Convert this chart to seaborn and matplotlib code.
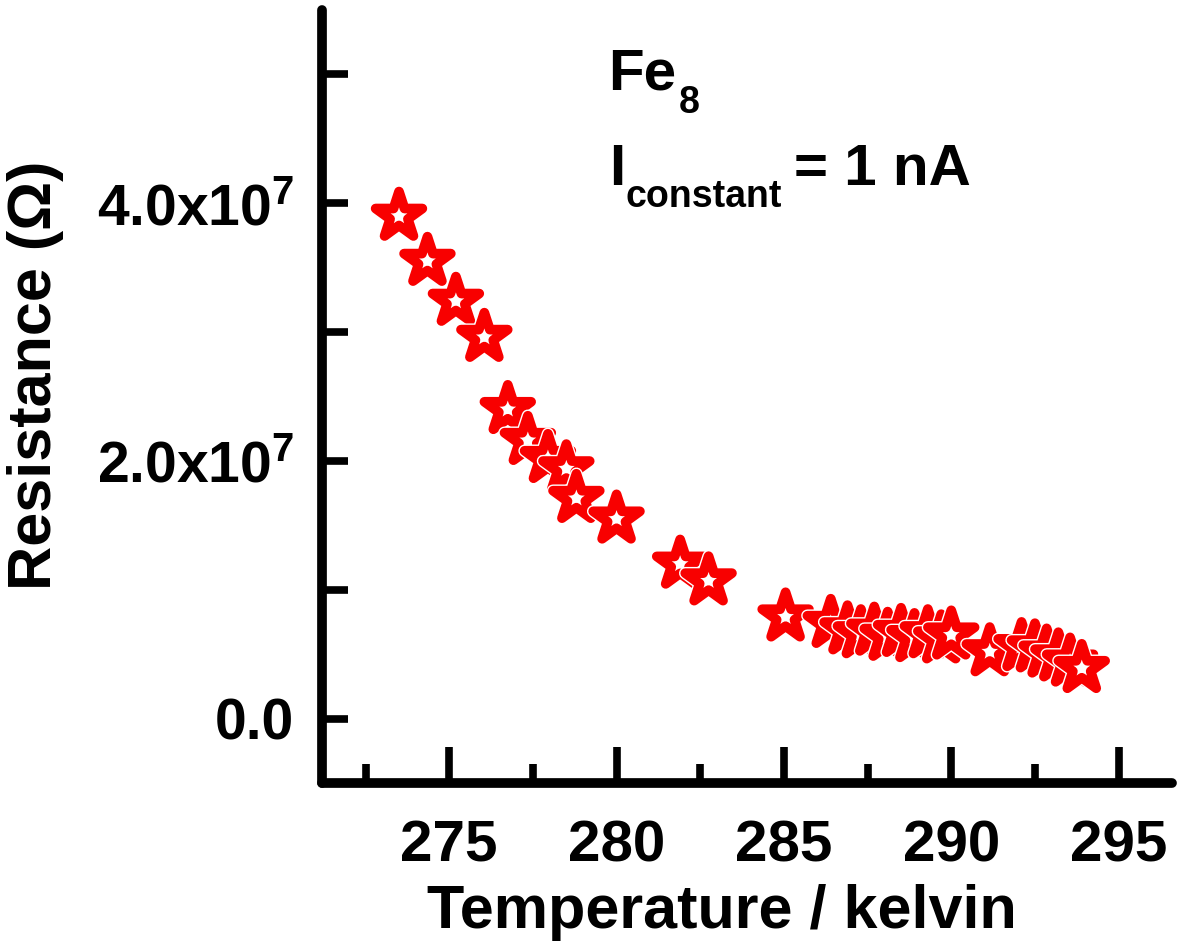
import numpy as np
import pandas as pd
import seaborn as sns
import matplotlib
matplotlib.use('Agg')
import matplotlib.pyplot as plt
from matplotlib import patheffects

# data
temperature = [273.5, 274.35, 275.2, 276.05, 276.75, 277.35, 277.95, 278.5, 278.8, 280.0,
               281.9, 282.75, 285.05, 286.4, 286.9, 287.3, 287.7, 288.1, 288.5, 288.9,
               289.3, 289.7, 290.0, 291.15, 292.1, 292.5, 292.85, 293.2, 293.55, 293.9]
resistance = [3.90e7, 3.55e7, 3.24e7, 2.96e7, 2.40e7, 2.16e7, 2.02e7, 1.94e7, 1.71e7, 1.55e7,
              1.20e7, 1.07e7, 0.79e7, 0.74e7, 0.69e7, 0.66e7, 0.68e7, 0.64e7, 0.67e7, 0.63e7,
              0.66e7, 0.62e7, 0.65e7, 0.52e7, 0.56e7, 0.55e7, 0.51e7, 0.48e7, 0.44e7, 0.39e7]

x_major = [275, 280, 285, 290, 295]
x_minor = [272.5, 277.5, 282.5, 287.5, 292.5]
y_major = [0, 2e7, 4e7]
y_labels = ['0.0', '2.0x10$^{7}$', '4.0x10$^{7}$']
y_minor = [1e7, 3e7, 5e7]

dt = pd.DataFrame({'T': temperature, 'R': resistance})

sns.set_style('white')
plt.rcParams['font.family'] = ['Liberation Sans', 'DejaVu Sans']
plt.rcParams['font.weight'] = 'bold'
plt.rcParams['text.color'] = 'black'
plt.rcParams['axes.labelcolor'] = 'black'
plt.rcParams['xtick.color'] = 'black'
plt.rcParams['ytick.color'] = 'black'
plt.rcParams['mathtext.fontset'] = 'custom'
plt.rcParams['mathtext.rm'] = 'Liberation Sans:bold'
plt.rcParams['mathtext.it'] = 'Liberation Sans:bold'
plt.rcParams['mathtext.bf'] = 'Liberation Sans:bold'


class WhiteRim(patheffects.AbstractPathEffect):
    # thin white rim drawn under each star, one star at a time
    def draw_path(self, renderer, gc, tpath, affine, rgbFace=None):
        gc0 = renderer.new_gc()
        gc0.copy_properties(gc)
        gc0.set_linewidth(gc.get_linewidth() + 2.0)
        gc0.set_foreground('white')
        gc0.set_joinstyle('round')
        renderer.draw_path(gc0, tpath, affine, (1, 1, 1, 1))
        gc0.restore()
        renderer.draw_path(gc, tpath, affine, rgbFace)


fig = plt.figure(figsize=(11.94, 9.48), dpi=100)
ax = fig.add_axes([0.2697, 0.174, 0.712, 0.8155])

sns.scatterplot(data=dt, x='T', y='R', marker='*', s=1250, color='white',
                edgecolor='#f80000', linewidth=7.0, ax=ax, zorder=3)
stars = ax.collections[0]
stars.set_joinstyle('round')
stars.set_path_effects([WhiteRim()])

ax.set_xlim(271.2, 296.6)
ax.set_ylim(-0.5e7, 5.5e7)

ax.set_xticks(x_major)
ax.set_xticks(x_minor, minor=True)
ax.set_yticks(y_major)
ax.set_yticklabels(y_labels)
ax.set_yticks(y_minor, minor=True)

ax.tick_params(which='both', bottom=True, left=True, top=False, right=False)
ax.tick_params(axis='x', which='major', direction='in', length=26, width=5.5,
               pad=26, labelsize=42)
ax.tick_params(axis='x', which='minor', direction='in', length=14, width=5.5)
ax.tick_params(axis='y', which='both', direction='in', length=19, width=5.5,
               pad=20, labelsize=41)

for side in ['top', 'right']:
    ax.spines[side].set_visible(False)
for side in ['left', 'bottom']:
    ax.spines[side].set_linewidth(7)
    ax.spines[side].set_color('black')
    ax.spines[side].set_capstyle('round')

ax.set_xlabel('Temperature / kelvin', fontsize=44, fontweight='bold')
ax.set_ylabel('Resistance (Ω)', fontsize=44, fontweight='bold')
ax.xaxis.set_label_coords(0.47, -0.13)
ax.yaxis.set_label_coords(-0.303, 0.527)

# annotation with hand-placed subscripts
ax.text(0.3365, 0.8965, 'Fe', transform=ax.transAxes, fontsize=42,
        fontweight='bold', va='baseline')
ax.text(0.4195, 0.8668, '8', transform=ax.transAxes, fontsize=27,
        fontweight='bold', va='baseline')
ax.text(0.3376, 0.7736, 'I', transform=ax.transAxes, fontsize=42,
        fontweight='bold', va='baseline')
ax.text(0.3565, 0.7452, 'constant', transform=ax.transAxes, fontsize=27,
        fontweight='bold', va='baseline')
ax.text(0.5553, 0.7736, '= 1 nA', transform=ax.transAxes, fontsize=42,
        fontweight='bold', va='baseline')

fig.savefig('out.png', dpi=100)
